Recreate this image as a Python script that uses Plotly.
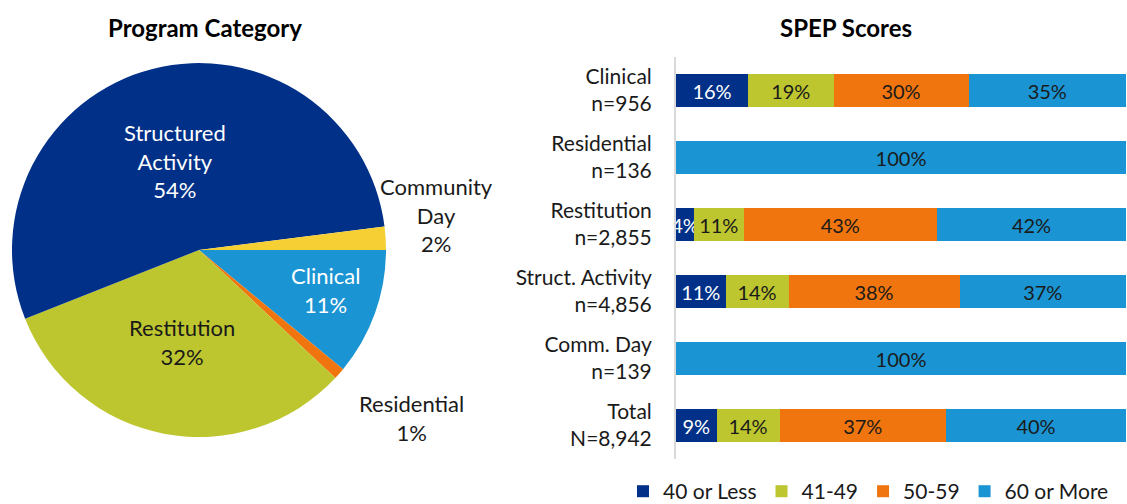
import plotly.graph_objects as go

# ---------------- data ----------------
pie_labels = ["Clinical", "Residential", "Restitution", "Structured<br>Activity", "Community<br>Day"]
pie_values = [11, 1, 32, 54, 2]
pie_colors = ["#1A94D2", "#F0750F", "#BDC62F", "#003087", "#F5CF33"]

bar_categories = ["Clinical<br>n=956", "Residential<br>n=136", "Restitution<br>n=2,855",
                  "Struct. Activity<br>n=4,856", "Comm. Day<br>n=139", "Total<br>N=8,942"]
series_names = ["40 or Less", "41-49", "50-59", "60 or More"]
s_40_or_less = [16, 0, 4, 11, 0, 9]
s_41_49 = [19, 0, 11, 14, 0, 14]
s_50_59 = [30, 0, 43, 38, 0, 37]
s_60_more = [35, 100, 42, 37, 100, 40]
series_values = [s_40_or_less, s_41_49, s_50_59, s_60_more]
series_colors = ["#003087", "#BDC62F", "#F0750F", "#1A94D2"]
series_text_colors = ["white", "#1a1a1a", "#1a1a1a", "#1a1a1a"]

FONT = "Lato"
TXT = "#1a1a1a"
W, H = 1127, 504

fig = go.Figure()

# ---------------- pie ----------------
fig.add_trace(go.Pie(
    labels=pie_labels, values=pie_values, sort=False, direction="clockwise", rotation=90,
    marker=dict(colors=pie_colors, line=dict(width=0)),
    textinfo="none", hoverinfo="label+percent", showlegend=False,
    domain=dict(x=[12 / W, 386 / W], y=[(H - 437) / H, (H - 63) / H]),
))

# pie labels (text from data)
pie_label_pos = {  # pixel centre of each label block
    "Clinical": (325, 290, "white"),
    "Residential": (411, 418, TXT),
    "Restitution": (182, 342, TXT),
    "Structured<br>Activity": (175, 161, "white"),
    "Community<br>Day": (436, 215, TXT),
}
for lab, val in zip(pie_labels, pie_values):
    px, py, col = pie_label_pos[lab]
    fig.add_annotation(x=px / W, y=1 - py / H, xref="paper", yref="paper",
                       text=f"{lab}<br>{val}%", showarrow=False,
                       font=dict(family=FONT, size=22, color=col),
                       xanchor="center", yanchor="middle")

# ---------------- stacked bars ----------------
for name, vals, col, tcol in zip(series_names, series_values, series_colors, series_text_colors):
    fig.add_trace(go.Bar(
        y=bar_categories, x=vals, orientation="h", name=name,
        marker=dict(color=col, line=dict(width=0)),
        text=[f"{v}%" if v else "" for v in vals],
        textposition="inside", insidetextanchor="middle", textangle=0,
        textfont=dict(family=FONT, size=20, color=tcol),
        xaxis="x", yaxis="y", cliponaxis=False,
    ))

fig.update_layout(
    width=W, height=H,
    margin=dict(l=0, r=0, t=0, b=0, autoexpand=False),
    paper_bgcolor="white", plot_bgcolor="white",
    font=dict(family=FONT, size=21, color=TXT),
    barmode="stack", bargap=0.5,
    uniformtext=dict(minsize=19, mode="show"),
    xaxis=dict(domain=[676 / W, 1126 / W], range=[0, 100], visible=False, fixedrange=True),
    yaxis=dict(domain=[(H - 459) / H, (H - 57) / H], autorange="reversed",
               showline=True, linecolor="#d9d9d9", linewidth=2, showgrid=False, fixedrange=True,
               ticks="", ticklabelstandoff=18, tickfont=dict(family=FONT, size=21, color=TXT)),
    legend=dict(orientation="h", x=623 / W, y=-0.016, xanchor="left", yanchor="bottom",
                font=dict(family=FONT, size=21, color=TXT), traceorder="normal",
                itemwidth=30),
    showlegend=True,
)

fig.add_annotation(x=205 / W, y=1 - 27 / H, xref="paper", yref="paper", text="<b>Program Category</b>",
                   showarrow=False, xanchor="center", yanchor="middle",
                   font=dict(family=FONT, size=24, color="black"))
fig.add_annotation(x=846 / W, y=1 - 27 / H, xref="paper", yref="paper", text="<b>SPEP Scores</b>",
                   showarrow=False, xanchor="center", yanchor="middle",
                   font=dict(family=FONT, size=24, color="black"))

fig.write_html("out.html", config={"displayModeBar": False},
               post_script="document.body.style.margin='0';document.body.style.overflow='hidden';")
